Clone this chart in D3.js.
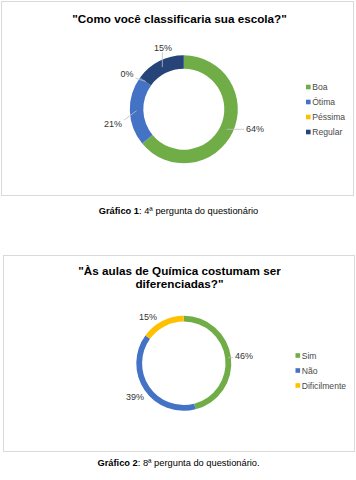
<!DOCTYPE html>
<html><head><meta charset="utf-8">
<script src="https://cdn.jsdelivr.net/npm/d3@7"></script>
<style>
html,body{margin:0;padding:0;background:#fff;}
svg{display:block;font-family:"Liberation Sans",Arial,sans-serif;}
</style></head>
<body>
<svg id="c" width="356" height="480"></svg>
<script>
// ---- data ----
const title1 = ['"Como você classificaria sua escola?"'];
const categories1 = ["Boa", "Ótima", "Péssima", "Regular"];
const values1 = [64, 21, 0, 15];
const colors1 = ["#70AD47", "#4472C4", "#FFC000", "#264478"];
const caption1 = ["Gráfico 1", ": 4ª pergunta do questionário"];

const title2 = ['"Às aulas de Química costumam ser', 'diferenciadas?"'];
const categories2 = ["Sim", "Não", "Dificilmente"];
const values2 = [46, 39, 15];
const colors2 = ["#70AD47", "#4472C4", "#FFC000"];
const caption2 = ["Gráfico 2", ": 8ª pergunta do questionário."];

// ---- layout (not data) ----
const charts = [
  {title: title1, cats: categories1, vals: values1, colors: colors1, caption: caption1,
   box: [1.5, 1.5, 352, 194], titleY: [23], cx: 183.8, cy: 109.2, rOut: 54, rIn: 40.5,
   labAngNudge: [-9.7, -10, -4.2, 8.2], labR: [73.9, 72.3, 66.8, 64.6], leaders: [1, 1, 1, 1],
   legX: 306, legY: 87, legStep: 15, capY: 213.5},
  {title: title2, cats: categories2, vals: values2, colors: colors2, caption: caption2,
   box: [3.5, 255.5, 351, 196], titleY: [274.5, 287.5], cx: 183.8, cy: 363.3, rOut: 47.5, rIn: 41.7,
   labAngNudge: [0.3, -0.4, -10.7], labR: [60.6, 59.3, 58.5], leaders: [1, 0, 0],
   legX: 295.5, legY: 355.5, legStep: 15, capY: 465.5}
];

const svg = d3.select("#c");
const toRad = d => d * Math.PI / 180;

charts.forEach(ch => {
  const g = svg.append("g");
  g.append("rect").attr("x", ch.box[0]).attr("y", ch.box[1]).attr("width", ch.box[2]).attr("height", ch.box[3])
    .attr("fill", "#fff").attr("stroke", "#D9D9D9").attr("stroke-width", 1);

  ch.title.forEach((t, i) => {
    g.append("text").attr("x", 179.5).attr("y", ch.titleY[i]).attr("text-anchor", "middle")
      .attr("font-size", "11.7px").attr("font-weight", "bold").attr("fill", "#000").text(t);
  });

  const pie = d3.pie().sort(null).value(d => d)(ch.vals);
  const arc = d3.arc().innerRadius(ch.rIn).outerRadius(ch.rOut);
  const pg = g.append("g").attr("transform", `translate(${ch.cx},${ch.cy})`);
  pg.selectAll("path").data(pie).join("path")
    .attr("d", arc).attr("fill", (d, i) => ch.colors[i]).attr("stroke", "none");

  // labels
  const total = d3.sum(ch.vals);
  pie.forEach((d, i) => {
    const mid = (d.startAngle + d.endAngle) / 2;
    const a = mid + toRad(ch.labAngNudge[i]);
    const lx = Math.sin(a) * ch.labR[i], ly = -Math.cos(a) * ch.labR[i];
    const txt = Math.round(d.value / total * 100) + "%";
    const t = pg.append("text").attr("x", lx).attr("y", ly).attr("dy", "0.35em")
      .attr("text-anchor", "middle").attr("font-size", "9px").attr("fill", "#333").text(txt);
    if (ch.leaders[i]) {
      const bb = t.node().getBBox();
      const rm = (ch.rIn + ch.rOut) / 2;
      const sx = Math.sin(mid) * rm, sy = -Math.cos(mid) * rm;
      const pad = 2;
      const ex = Math.max(bb.x - pad, Math.min(bb.x + bb.width + pad, sx));
      const ey = Math.max(bb.y + 1, Math.min(bb.y + bb.height - 1, sy));
      pg.insert("line", "text").attr("x1", sx).attr("y1", sy).attr("x2", ex).attr("y2", ey)
        .attr("stroke", "#BFBFBF").attr("stroke-width", 0.8);
    }
  });

  // legend
  ch.cats.forEach((c, i) => {
    const y = ch.legY + i * ch.legStep;
    g.append("rect").attr("x", ch.legX).attr("y", y - 2.3).attr("width", 4.6).attr("height", 4.6).attr("fill", ch.colors[i]);
    g.append("text").attr("x", ch.legX + 6.2).attr("y", y).attr("dy", "0.35em")
      .attr("font-size", "8.6px").attr("fill", "#4a4a4a").text(c);
  });

  // caption
  const cap = svg.append("text").attr("x", 178.5).attr("y", ch.capY).attr("text-anchor", "middle")
    .attr("font-size", "9.3px").attr("fill", "#000");
  cap.append("tspan").attr("font-weight", "bold").text(ch.caption[0]);
  cap.append("tspan").text(ch.caption[1]);
});
</script>
</body></html>
